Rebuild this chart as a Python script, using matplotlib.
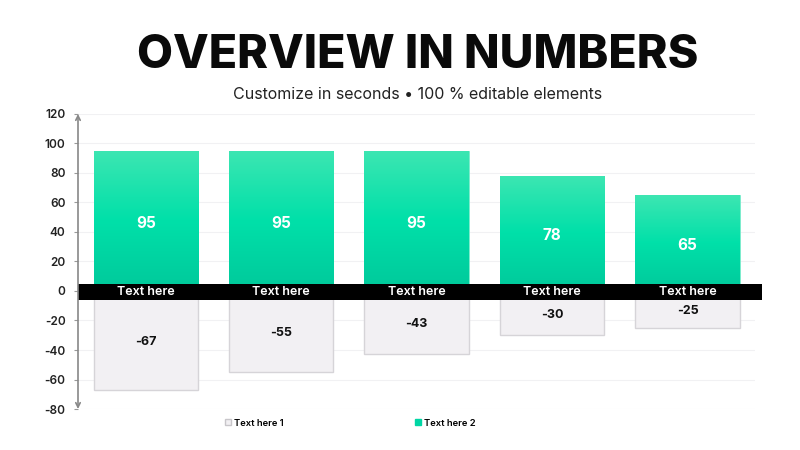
import matplotlib
matplotlib.use("Agg")
import matplotlib.pyplot as plt
import numpy as np
from matplotlib.patches import Rectangle
from matplotlib.colors import LinearSegmentedColormap
from matplotlib.lines import Line2D

plt.rcParams['font.family'] = ['Inter', 'DejaVu Sans']

categories = ["Text here", "Text here", "Text here", "Text here", "Text here"]
series1_name = "Text here 1"
series2_name = "Text here 2"
series1 = [-67, -55, -43, -30, -25]
series2 = [95, 95, 95, 78, 65]
yticks = [-80, -60, -40, -20, 0, 20, 40, 60, 80, 100, 120]

fig = plt.figure(figsize=(8, 4.5), dpi=100)
ax = fig.add_axes([0.0975, 0.0911, 0.8465, 0.6556])
x = np.arange(len(categories))
w = 0.77

ax.set_xlim(-0.5, len(categories) - 0.5)
ax.set_ylim(-80, 120)
ax.set_yticks(yticks)
ax.set_yticklabels([str(t) for t in yticks])
ax.set_xticks([])
for s in ax.spines.values():
    s.set_visible(False)
ax.yaxis.grid(True, color="#f1f1f3", linewidth=0.8)
ax.set_axisbelow(True)
ax.tick_params(axis='y', length=3, color="#999999", labelsize=8.5, labelcolor="#222222", pad=6)
for lab in ax.get_yticklabels():
    lab.set_fontweight('semibold')

# grey negative bars
ax.bar(x, series1, width=w, color="#f2f0f3", edgecolor="#d6d4d8", linewidth=1, zorder=2)

# green gradient bars
cmap = LinearSegmentedColormap.from_list("g", ["#00c99b", "#00e0a9", "#3de6b2"])
grad = np.linspace(0, 1, 256).reshape(-1, 1)
bars = ax.bar(x, series2, width=w, color="#00dba5", edgecolor="#7eeccd", linewidth=0.6, zorder=2)
for b in bars:
    im = ax.imshow(grad, extent=[b.get_x(), b.get_x() + b.get_width(), 0, b.get_height()],
                   origin='lower', cmap=cmap, aspect='auto', zorder=2.5)
    im.set_clip_path(b)
ax.set_xlim(-0.5, len(categories) - 0.5)
ax.set_ylim(-80, 120)

# value labels
for xi, v in zip(x, series2):
    ax.text(xi, v / 2 - 1.5, str(v), ha='center', va='center', color='white', fontsize=11,
            fontweight='bold', zorder=5)
for xi, v in zip(x, series1):
    ax.text(xi, v / 2 - 1, str(v), ha='center', va='center', color='#111111', fontsize=9,
            fontweight='bold', zorder=5)

# black category band
band = Rectangle((0, -6), 1.01, 11, transform=ax.get_yaxis_transform(), facecolor='black',
                 edgecolor='none', zorder=4, clip_on=False)
ax.add_patch(band)
for xi, c in zip(x, categories):
    ax.text(xi, -0.5, c, ha='center', va='center', color='white', fontsize=9,
            fontweight='semibold', zorder=5)

# y axis line with arrows
ax.annotate('', xy=(0, 120), xytext=(0, -80), xycoords=ax.get_yaxis_transform(),
            textcoords=ax.get_yaxis_transform(),
            arrowprops=dict(arrowstyle='<->', color='#888888', lw=1.2, shrinkA=0, shrinkB=0,
                            mutation_scale=8), zorder=6, annotation_clip=False)

# titles
fig.text(0.522, 0.876, "OVERVIEW IN NUMBERS", ha='center', va='center', fontsize=33.5,
         fontweight='heavy', color='#0a0a0a')
fig.text(0.522, 0.791, "Customize in seconds \u2022 100 % editable elements", ha='center',
         va='center', fontsize=11.5, color='#222222')

# legend
handles = [Line2D([0], [0], marker='s', linestyle='none', markersize=5,
                  markerfacecolor='#f2f0f3', markeredgecolor='#c8c6ca'),
           Line2D([0], [0], marker='s', linestyle='none', markersize=5,
                  markerfacecolor='#00d6a4', markeredgecolor='#00d6a4')]
leg = fig.legend(handles, [series1_name, series2_name], loc='center', ncol=2,
                 bbox_to_anchor=(0.437, 0.06), frameon=False, columnspacing=13.8,
                 handletextpad=0.1, prop={'size': 6.8, 'weight': 'semibold'}, handlelength=1)

fig.savefig("out.png", dpi=100, facecolor='white')
